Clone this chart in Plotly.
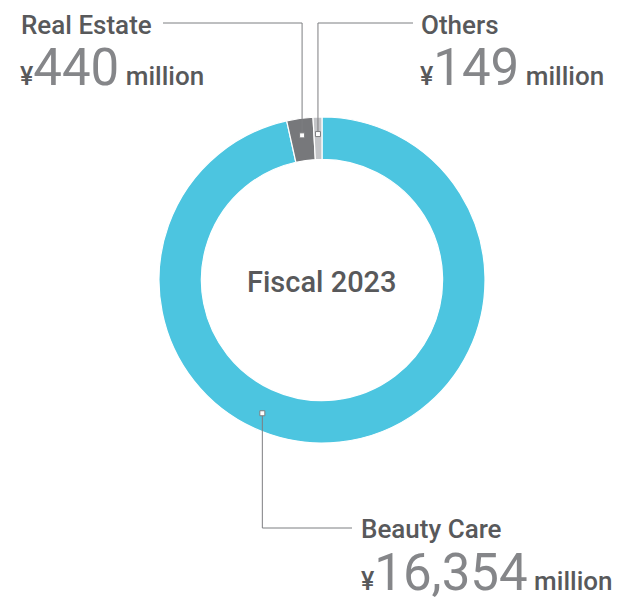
import math
import plotly.graph_objects as go

# Segment revenue, fiscal 2023 (¥ million)
segments = ["Beauty Care", "Real Estate", "Others"]
revenue = [16354, 440, 149]
colors = ["#4cc5e0", "#77787b", "#c4c5c8"]
center_label = "Fiscal 2023"

W, H = 617, 601
CX, CY, R_OUT, HOLE = 322, 280, 163, 0.74

LABEL_C = "#58595b"
NUM_C = "#858689"
LINE_C = "#7d7e81"
FONT = "Roboto"


def px(x, y):
    return x / W, 1 - y / H


fig = go.Figure(
    go.Pie(
        labels=segments,
        values=revenue,
        sort=False,
        direction="clockwise",
        rotation=0,
        hole=HOLE,
        textinfo="none",
        hoverinfo="label+value",
        marker=dict(colors=colors, line=dict(color="white", width=1.2)),
        domain=dict(
            x=[(CX - R_OUT) / W, (CX + R_OUT) / W],
            y=[1 - (CY + R_OUT) / H, 1 - (CY - R_OUT) / H],
        ),
        showlegend=False,
    )
)

# angle (clockwise from 12 o'clock) where each leader line touches its slice
total = sum(revenue)
cum = 0
mid_frac = []
for v in revenue:
    mid_frac.append((cum + v / 2) / total)
    cum += v
anchor_frac = [0.567, mid_frac[1], mid_frac[2]]
R_ANCHOR = 146


def anchor_point(frac):
    a = 2 * math.pi * frac
    return CX + R_ANCHOR * math.sin(a), CY - R_ANCHOR * math.cos(a)


shapes = []
annotations = []


def seg(x0, y0, x1, y1):
    (a, b), (c, d) = px(x0, y0), px(x1, y1)
    shapes.append(dict(type="line", xref="paper", yref="paper", x0=a, y0=b, x1=c, y1=d,
                       line=dict(color=LINE_C, width=1)))


def marker(x, y):
    (a, b), (c, d) = px(x - 2.5, y - 2.5), px(x + 2.5, y + 2.5)
    shapes.append(dict(type="rect", xref="paper", yref="paper", x0=a, y0=b, x1=c, y1=d,
                       line=dict(color=LINE_C, width=1), fillcolor="white"))


def label(x, y, name):
    a, b = px(x, y)
    annotations.append(dict(x=a, y=b, xref="paper", yref="paper", xanchor="left", yanchor="middle",
                            text=name, showarrow=False,
                            font=dict(family=FONT, size=26, weight=500, color=LABEL_C)))


def value_line(x, y, v):
    a, b = px(x, y)
    text = (f'<span style="font-size:25px;color:{LABEL_C}">¥</span>'
            f'<span style="font-size:51px;font-weight:400;color:{NUM_C}">{v:,}</span>'
            f'<span style="font-size:26px;color:{LABEL_C}"> million</span>')
    annotations.append(dict(x=a, y=b, xref="paper", yref="paper", xanchor="left", yanchor="middle",
                            text=text, showarrow=False,
                            font=dict(family=FONT, size=25, weight=500, color=LABEL_C)))


# Real Estate: up and to the left
ax, ay = anchor_point(anchor_frac[1])
seg(ax, ay, ax, 23)
seg(ax, 23, 163, 23)
marker(ax, ay)
label(19, 25, segments[1])
value_line(18, 67, revenue[1])

# Others: up and to the right
ax, ay = anchor_point(anchor_frac[2])
seg(ax, ay, ax, 23)
seg(ax, 23, 413, 23)
marker(ax, ay)
label(419, 25, segments[2])
value_line(418, 67, revenue[2])

# Beauty Care: down and to the right
ax, ay = anchor_point(anchor_frac[0])
seg(ax, ay, ax, 528)
seg(ax, 528, 352, 528)
marker(ax, ay)
label(359, 529, segments[0])
value_line(359, 572, revenue[0])

cx, cy = px(CX, 282)
annotations.append(dict(x=cx, y=cy, xref="paper", yref="paper", xanchor="center", yanchor="middle",
                        text=center_label, showarrow=False,
                        font=dict(family=FONT, size=29, weight=500, color=LABEL_C)))

fig.update_layout(
    width=W,
    height=H,
    margin=dict(l=0, r=0, t=0, b=0),
    paper_bgcolor="white",
    plot_bgcolor="white",
    shapes=shapes,
    annotations=annotations,
)

fig.write_html("out.html")
